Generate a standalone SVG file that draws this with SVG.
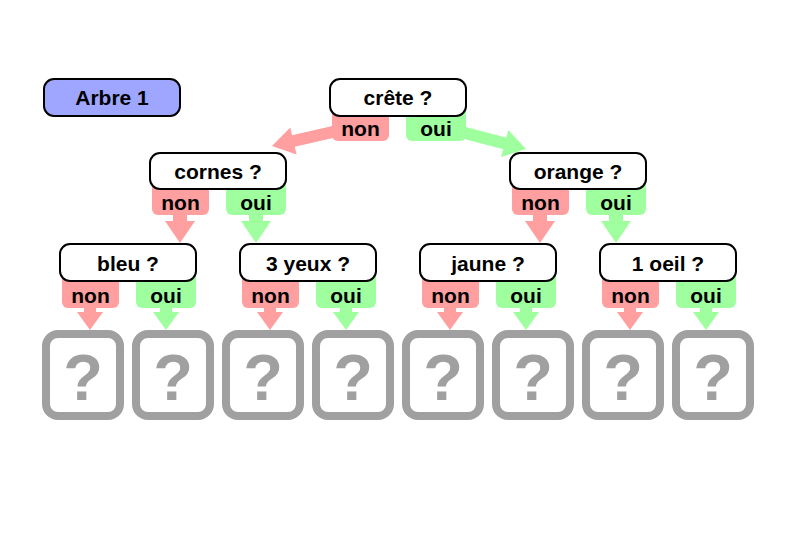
<svg xmlns="http://www.w3.org/2000/svg" width="789" height="558" viewBox="0 0 789 558">
<style>
.box{fill:#fff;stroke:#000;stroke-width:2}
.non{fill:#ff9f9f}
.oui{fill:#9fff9f}
.t{font-family:"Liberation Sans",Arial,sans-serif;font-weight:bold;font-size:21px;text-anchor:middle;fill:#000}
.leaf{fill:#fff;stroke:#a0a0a0;stroke-width:8}
.q{font-family:"Liberation Sans",Arial,sans-serif;font-weight:bold;font-size:65px;text-anchor:middle;fill:#a0a0a0}
</style>
<rect width="789" height="558" fill="#fff"/>
<g id="connectors">
<polygon class="non" points="348.65,122.15 292.05,135.15 290.3,127.4 272,146 296.6,154.6 294.75,146.85 351.35,133.85"/>
<polygon class="oui" points="447.5,122.2 506.2,137.6 508.3,129.9 526,149 501.1,157 503.2,149.2 444.5,133.8"/>
<polygon class="non" points="173,208 187,208 187,221 195,221 180,243 165,221 173,221"/>
<polygon class="oui" points="249,208 263,208 263,221 271,221 256,243 241,221 249,221"/>
<polygon class="non" points="533,208 547,208 547,221 555,221 540,243 525,221 533,221"/>
<polygon class="oui" points="609,208 623,208 623,221 631,221 616,243 601,221 609,221"/>
<polygon class="non" points="84,300 96,300 96,312 103,312 90,330 77,312 84,312"/>
<polygon class="oui" points="160,300 172,300 172,312 179,312 166,330 153,312 160,312"/>
<polygon class="non" points="264,300 276,300 276,312 283,312 270,330 257,312 264,312"/>
<polygon class="oui" points="340,300 352,300 352,312 359,312 346,330 333,312 340,312"/>
<polygon class="non" points="444,300 456,300 456,312 463,312 450,330 437,312 444,312"/>
<polygon class="oui" points="520,300 532,300 532,312 539,312 526,330 513,312 520,312"/>
<polygon class="non" points="624,300 636,300 636,312 643,312 630,330 617,312 624,312"/>
<polygon class="oui" points="700,300 712,300 712,312 719,312 706,330 693,312 700,312"/>
</g>
<g id="arbre1">
<rect x="44" y="79" width="136" height="37" rx="10" fill="#9ea6ff" stroke="#000" stroke-width="2"/>
<text class="t" x="112" y="105">Arbre 1</text>
</g>
<g id="crete">
<rect class="non" x="332" y="90" width="57" height="51" rx="6"/>
<rect class="oui" x="406" y="90" width="60" height="51" rx="6"/>
<rect class="box" x="330" y="79" width="136" height="37" rx="10"/>
<text class="t" x="398" y="105">crête ?</text>
<text class="t" x="360.5" y="136">non</text>
<text class="t" x="436" y="136">oui</text>
</g>
<g id="cornes">
<rect class="non" x="152" y="164" width="57" height="51" rx="6"/>
<rect class="oui" x="226" y="164" width="60" height="51" rx="6"/>
<rect class="box" x="150" y="153" width="136" height="36" rx="10"/>
<text class="t" x="218" y="179">cornes ?</text>
<text class="t" x="180.5" y="210">non</text>
<text class="t" x="256" y="210">oui</text>
</g>
<g id="orange">
<rect class="non" x="512" y="164" width="57" height="51" rx="6"/>
<rect class="oui" x="586" y="164" width="60" height="51" rx="6"/>
<rect class="box" x="510" y="153" width="136" height="36" rx="10"/>
<text class="t" x="578" y="179">orange ?</text>
<text class="t" x="540.5" y="210">non</text>
<text class="t" x="616" y="210">oui</text>
</g>
<g id="bleu">
<rect class="non" x="62" y="255" width="57" height="53" rx="6"/>
<rect class="oui" x="136" y="255" width="60" height="53" rx="6"/>
<rect class="box" x="60" y="244" width="136" height="37" rx="10"/>
<text class="t" x="128" y="271">bleu ?</text>
<text class="t" x="90.5" y="303">non</text>
<text class="t" x="166" y="303">oui</text>
</g>
<g id="yeux3">
<rect class="non" x="242" y="255" width="57" height="53" rx="6"/>
<rect class="oui" x="316" y="255" width="60" height="53" rx="6"/>
<rect class="box" x="240" y="244" width="136" height="37" rx="10"/>
<text class="t" x="308" y="271">3 yeux ?</text>
<text class="t" x="270.5" y="303">non</text>
<text class="t" x="346" y="303">oui</text>
</g>
<g id="jaune">
<rect class="non" x="422" y="255" width="57" height="53" rx="6"/>
<rect class="oui" x="496" y="255" width="60" height="53" rx="6"/>
<rect class="box" x="420" y="244" width="136" height="37" rx="10"/>
<text class="t" x="488" y="271">jaune ?</text>
<text class="t" x="450.5" y="303">non</text>
<text class="t" x="526" y="303">oui</text>
</g>
<g id="oeil1">
<rect class="non" x="602" y="255" width="57" height="53" rx="6"/>
<rect class="oui" x="676" y="255" width="60" height="53" rx="6"/>
<rect class="box" x="600" y="244" width="136" height="37" rx="10"/>
<text class="t" x="668" y="271">1 oeil ?</text>
<text class="t" x="630.5" y="303">non</text>
<text class="t" x="706" y="303">oui</text>
</g>
<g id="leaf1"><rect class="leaf" x="46" y="334" width="74" height="82" rx="12"/><text class="q" x="83" y="400">?</text></g>
<g id="leaf2"><rect class="leaf" x="136" y="334" width="74" height="82" rx="12"/><text class="q" x="173" y="400">?</text></g>
<g id="leaf3"><rect class="leaf" x="226" y="334" width="74" height="82" rx="12"/><text class="q" x="263" y="400">?</text></g>
<g id="leaf4"><rect class="leaf" x="316" y="334" width="74" height="82" rx="12"/><text class="q" x="353" y="400">?</text></g>
<g id="leaf5"><rect class="leaf" x="406" y="334" width="74" height="82" rx="12"/><text class="q" x="443" y="400">?</text></g>
<g id="leaf6"><rect class="leaf" x="496" y="334" width="74" height="82" rx="12"/><text class="q" x="533" y="400">?</text></g>
<g id="leaf7"><rect class="leaf" x="586" y="334" width="74" height="82" rx="12"/><text class="q" x="623" y="400">?</text></g>
<g id="leaf8"><rect class="leaf" x="676" y="334" width="74" height="82" rx="12"/><text class="q" x="713" y="400">?</text></g>
</svg>
